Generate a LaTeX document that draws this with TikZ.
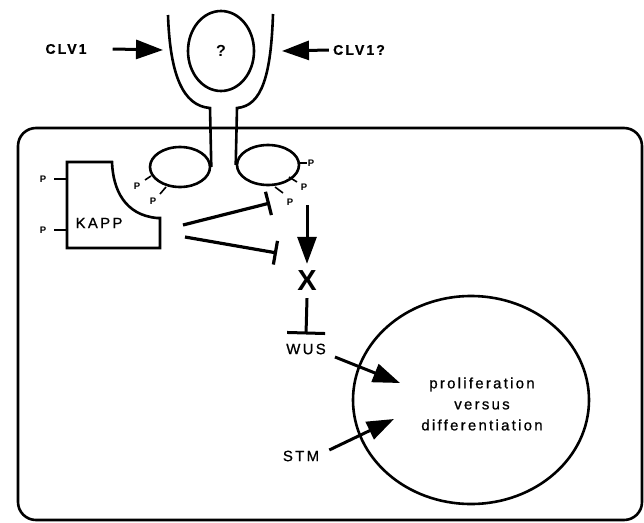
\documentclass[tikz,border=0pt]{standalone}
\usepackage{fontspec}
\setmainfont{Liberation Sans}
\newfontfamily\lblfont[LetterSpace=15,FakeBold=0.8]{Liberation Sans}
\usetikzlibrary{arrows.meta,shapes.geometric}
\begin{document}
\begin{tikzpicture}[x=1pt,y=-1pt,
  outline/.style={line width=2.6pt},
  bigarrow/.style={line width=3pt,-{Triangle[length=27pt,width=19pt]}},
  inhib/.style={line width=3.2pt,-{Bar[width=24pt]}},
  lbl/.style={font=\lblfont\fontsize{14}{16}\selectfont, inner sep=0pt},
  lblb/.style={font=\lblfont\bfseries\fontsize{14}{16}\selectfont, inner sep=0pt},
  plbl/.style={font=\bfseries\fontsize{9.5}{10}\selectfont, inner sep=0pt},
  pline/.style={line width=1.6pt},
  oval/.style={draw, outline, ellipse, inner sep=0pt}
]
\useasboundingbox (0,0) rectangle (644,522);

% cell outline
\draw[outline, rounded corners=18pt] (18,128) rectangle (642,520);

% receptor
\node[oval, minimum width=66pt, minimum height=80pt] (q) at (221,51) {};
\node[font=\bfseries\fontsize{16}{17}\selectfont, inner sep=0pt] (qm) at (q.center) {?};
\node[oval, minimum width=60pt, minimum height=40pt] (le) at (180,167) {};
\node[oval, minimum width=62pt, minimum height=40pt] (re) at (268,165) {};
\draw[outline] (168,15) .. controls (170,75) and (183,106) .. (210,108) -- (le.east);
\draw[outline] (273,14) .. controls (271,75) and (262,106) .. (237,108) -- (re.west);

% CLV1 arrows
\node[lblb] (clv1) at (66,49) {CLV1};
\node[lblb] (clv1q) at (359,50) {CLV1?};
\coordinate (ltip) at (163,50);
\coordinate (rtip) at (282,51);
\draw[bigarrow] ([xshift=26pt]clv1.east) -- (ltip);
\draw[bigarrow] ([xshift=-4pt]clv1q.west) -- (rtip);

% phosphates on right ellipse
\draw[pline] (300,163) -- (307,163); \node[plbl] (p1) at (311,163) {P};
\draw[pline] (289,177) -- (297,182); \node[plbl] (p2) at (304,187) {P};
\draw[pline] (275,187) -- (283,193); \node[plbl] (p3) at (290,202) {P};
% phosphates on left ellipse
\draw[pline] (151,176) -- (145,180); \node[plbl] (p4) at (137,186) {P};
\draw[pline] (166,187) -- (160,194); \node[plbl] (p5) at (153,201) {P};

% KAPP
\draw[outline] (67,162) -- (112,162) .. controls (113,190) and (125,215) .. (157,218) -- (160,218) -- (160,248) -- (67,248) -- cycle;
\node[font=\lblfont\fontsize{15}{17}\selectfont, inner sep=0pt] (kapp) at (99,223) {KAPP};
\draw[pline] (54,179) -- (66,179); \node[plbl] (p6) at (43,179) {P};
\draw[pline] (54,230) -- (66,230); \node[plbl] (p7) at (43,230) {P};

% X and inhibitions
\node[font=\bfseries\fontsize{29}{30}\selectfont, inner xsep=0pt, inner ysep=7pt] (X) at (307,281) {X};
\node[font=\lblfont\fontsize{15}{17}\selectfont, inner xsep=2pt, inner ysep=9pt] (wus) at (306,349) {WUS};
\coordinate (inA) at (183,225);
\coordinate (inB) at (270,203);
\coordinate (inC) at (185,237);
\coordinate (inD) at (277,253);
\draw[inhib] (inA) -- (inB);
\draw[inhib] (inC) -- (inD);
\coordinate (vtop) at (307,205);
\draw[bigarrow] (vtop) -- (X.north);
\draw[line width=3pt, -{Bar[width=38pt]}] (X.south) -- (wus.north);

% fate circle
\node[oval, minimum width=236pt, minimum height=208pt] (fate) at (471,400) {};
\node[font=\lblfont\fontsize{15}{21}\selectfont, align=center, inner sep=0pt] (prolif) at (482,404) {proliferation\\versus\\differentiation};
\node[font=\lblfont\fontsize{15}{17}\selectfont, inner xsep=2pt, inner ysep=2pt] (stm) at (301,456) {STM};
\coordinate (wtip) at (400,383);
\coordinate (stip) at (394,419);
\draw[bigarrow] ([shift={(7,8)}]wus.east) -- (wtip);
\draw[bigarrow] ([shift={(8,-6)}]stm.east) -- (stip);
\end{tikzpicture}
\end{document}
